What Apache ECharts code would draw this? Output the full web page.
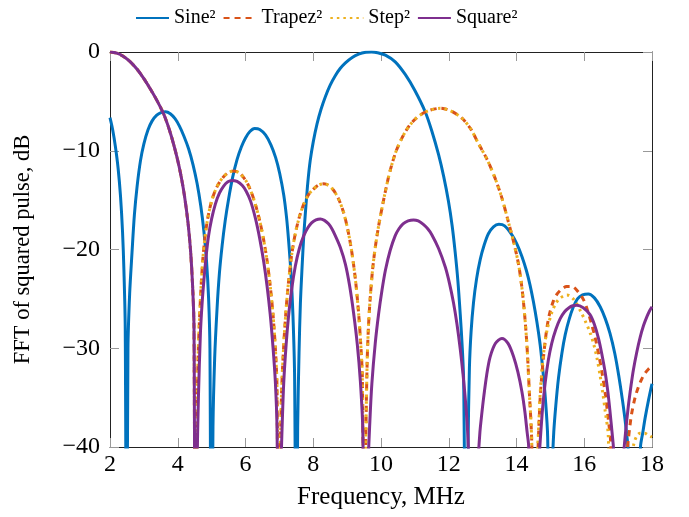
<!DOCTYPE html>
<html>
<head>
<meta charset="utf-8">
<script src="https://cdn.jsdelivr.net/npm/echarts@6/dist/echarts.min.js"></script>
<style>
html,body{margin:0;padding:0;background:#fff;}
#chart{width:689px;height:517px;}
</style>
</head>
<body>
<div id="chart"></div>
<script>
// ---- data (frequency in MHz, level in dB) ----
const seriesNames = ['Sine\u00B2', 'Trapez\u00B2', 'Step\u00B2', 'Square\u00B2'];
const xTicks = [2, 4, 6, 8, 10, 12, 14, 16, 18];
const yTicks = [-40, -30, -20, -10, 0];

const sineSq = [
  [2.00,-6.65],[2.08,-7.9],[2.16,-9.6],[2.24,-11.8],[2.31,-14.6],[2.37,-18.2],[2.41,-22.0],[2.45,-28],[2.49,-60],
  [2.53,-30],[2.58,-24.5],[2.65,-20.3],[2.72,-16.5],[2.80,-13.6],[2.90,-11.0],[3.00,-9.3],[3.12,-7.9],[3.24,-7.0],[3.38,-6.4],[3.52,-6.12],[3.64,-6.05],[3.78,-6.25],[3.92,-6.75],[4.05,-7.5],[4.18,-8.5],[4.32,-9.8],[4.45,-11.4],[4.57,-13.3],[4.68,-15.6],[4.77,-18.1],[4.85,-21.2],[4.91,-24.9],[4.95,-30],[4.99,-60],
  [5.04,-38],[5.09,-31],[5.16,-26.0],[5.23,-22.4],[5.31,-19.6],[5.40,-17.1],[5.50,-14.9],[5.62,-12.7],[5.75,-10.9],[5.88,-9.6],[6.00,-8.7],[6.13,-8.05],[6.27,-7.75],[6.42,-7.85],[6.59,-8.4],[6.75,-9.4],[6.89,-10.7],[7.01,-12.3],[7.13,-14.5],[7.21,-16.7],[7.27,-19.0],[7.34,-22.3],[7.40,-26.6],[7.45,-33],[7.50,-60],
  [7.54,-38],[7.58,-30.5],[7.62,-25.5],[7.67,-21.8],[7.72,-18.6],[7.77,-16.2],[7.84,-13.2],[7.91,-11.0],[8.00,-9.1],[8.11,-7.3],[8.23,-5.8],[8.36,-4.5],[8.50,-3.35],[8.65,-2.4],[8.80,-1.65],[8.95,-1.1],[9.15,-0.55],[9.34,-0.22],[9.55,-0.03],[9.72,0],[9.90,-0.07],[10.13,-0.32],[10.42,-1.0],[10.72,-2.3],[11.00,-3.9],[11.31,-6.1],[11.50,-8.0],[11.70,-10.4],[11.85,-12.6],[11.99,-15.1],[12.10,-17.6],[12.19,-20.3],[12.27,-23.2],[12.34,-26.6],[12.40,-30],[12.44,-33.3],[12.52,-60],
  [12.57,-40],[12.61,-32],[12.66,-28.3],[12.73,-25.4],[12.82,-23.0],[12.93,-21.0],[13.05,-19.5],[13.17,-18.4],[13.32,-17.7],[13.48,-17.45],[13.65,-17.6],[13.86,-18.5],[14.02,-19.5],[14.16,-20.7],[14.29,-22.1],[14.40,-23.6],[14.50,-25.3],[14.60,-27.3],[14.70,-29.7],[14.78,-32.3],[14.85,-35.0],[14.92,-39],[15.00,-60],
  [15.06,-42],[15.10,-38.5],[15.16,-35.8],[15.24,-33.0],[15.34,-30.5],[15.44,-28.6],[15.56,-27.0],[15.68,-25.8],[15.80,-25.0],[15.95,-24.6],[16.12,-24.5],[16.30,-24.9],[16.47,-25.8],[16.62,-27.0],[16.76,-28.5],[16.90,-30.5],[17.02,-32.8],[17.13,-35.3],[17.22,-37.7],[17.30,-40.5],[17.48,-60],
  [17.66,-40],[17.73,-38.5],[17.80,-37.0],[17.90,-35.2],[18.00,-33.6]
];

const mainLobe = [
  [2.00,0],[2.20,-0.12],[2.40,-0.45],[2.60,-1.0],[2.80,-1.75],[3.00,-2.7],[3.20,-3.8],[3.40,-5.0],[3.60,-6.4],[3.80,-8.4],[3.98,-10.7],[4.10,-12.6],[4.20,-14.6],[4.30,-17.2],[4.38,-20.2],[4.44,-23.8],[4.48,-28],[4.52,-60]
];

const trapezSq = [
  [4.56,-40],[4.60,-31],[4.67,-25.0],[4.74,-21.0],[4.82,-18.3],[4.91,-16.4],[5.00,-15.1],[5.11,-14.0],[5.23,-13.2],[5.36,-12.6],[5.50,-12.2],[5.65,-12.05],[5.80,-12.2],[5.92,-12.6],[6.04,-13.2],[6.16,-14.1],[6.29,-15.4],[6.42,-17.1],[6.54,-19.1],[6.64,-21.2],[6.73,-23.7],[6.81,-26.5],[6.88,-29.9],[6.93,-34],[6.98,-60],
  [7.03,-40],[7.07,-34],[7.13,-29.6],[7.20,-26.0],[7.27,-23.3],[7.36,-20.6],[7.47,-18.4],[7.59,-16.7],[7.72,-15.4],[7.87,-14.4],[8.03,-13.8],[8.17,-13.45],[8.31,-13.35],[8.45,-13.5],[8.60,-14.0],[8.75,-14.9],[8.90,-16.3],[9.02,-18.0],[9.14,-20.3],[9.25,-23.2],[9.34,-26.5],[9.40,-29.5],[9.45,-33],[9.51,-60],
  [9.55,-40],[9.59,-31.6],[9.63,-27.8],[9.68,-25.0],[9.75,-22.1],[9.83,-19.8],[9.93,-17.6],[10.03,-15.8],[10.13,-14.1],[10.22,-12.7],[10.32,-11.4],[10.45,-10.0],[10.62,-8.7],[10.85,-7.4],[11.11,-6.5],[11.40,-5.95],[11.75,-5.7],[12.05,-5.95],[12.39,-6.7],[12.65,-7.8],[12.88,-9.3],[13.12,-10.8],[13.37,-12.8],[13.57,-14.8],[13.76,-17.2],[13.92,-19.3],[14.06,-21.5],[14.15,-23.6],[14.23,-26.2],[14.31,-29.8],[14.38,-34.5],[14.45,-39.5],[14.55,-60],
  [14.62,-42],[14.66,-38],[14.70,-35.0],[14.75,-32.6],[14.80,-30.8],[14.85,-29.2],[14.90,-27.9],[14.97,-26.6],[15.09,-25.2],[15.20,-24.5],[15.34,-24.0],[15.48,-23.75],[15.63,-23.75],[15.80,-24.2],[15.98,-25.1],[16.10,-26.2],[16.22,-27.6],[16.32,-28.9],[16.42,-30.5],[16.52,-32.4],[16.62,-34.6],[16.71,-37.2],[16.78,-39.5],[16.95,-60],
  [17.25,-41],[17.30,-39.3],[17.35,-37.8],[17.40,-36.6],[17.50,-35.0],[17.60,-33.9],[17.70,-33.1],[17.80,-32.5],[17.90,-32.1],[18.00,-31.8]
];

const stepSq = [
  [4.56,-40],[4.60,-31],[4.67,-25.0],[4.74,-21.0],[4.82,-18.3],[4.91,-16.4],[5.00,-15.1],[5.11,-14.0],[5.23,-13.2],[5.36,-12.6],[5.50,-12.2],[5.65,-12.05],[5.80,-12.2],[5.92,-12.6],[6.04,-13.2],[6.16,-14.1],[6.29,-15.4],[6.42,-17.1],[6.54,-19.1],[6.64,-21.2],[6.73,-23.7],[6.81,-26.5],[6.88,-29.9],[6.93,-34],[6.98,-60],
  [7.03,-40],[7.07,-34],[7.13,-29.6],[7.20,-26.0],[7.27,-23.3],[7.36,-20.6],[7.47,-18.4],[7.59,-16.7],[7.72,-15.4],[7.87,-14.4],[8.03,-13.8],[8.17,-13.45],[8.31,-13.35],[8.45,-13.5],[8.60,-14.0],[8.75,-14.9],[8.90,-16.3],[9.02,-18.0],[9.14,-20.3],[9.25,-23.2],[9.34,-26.5],[9.40,-29.5],[9.45,-33],[9.51,-60],
  [9.55,-40],[9.59,-31.6],[9.63,-27.8],[9.68,-25.0],[9.75,-22.1],[9.83,-19.8],[9.93,-17.6],[10.03,-15.8],[10.13,-14.1],[10.22,-12.7],[10.32,-11.4],[10.45,-10.0],[10.62,-8.7],[10.85,-7.4],[11.11,-6.5],[11.40,-5.95],[11.75,-5.7],[12.05,-5.95],[12.39,-6.7],[12.65,-7.8],[12.88,-9.3],[13.12,-10.8],[13.37,-12.8],[13.57,-14.8],[13.76,-17.2],[13.92,-19.3],[14.06,-21.5],[14.15,-23.6],[14.23,-26.2],[14.31,-29.8],[14.38,-34.5],[14.45,-39.5],[14.53,-60],
  [14.62,-41],[14.66,-37.5],[14.70,-34.5],[14.75,-32.2],[14.80,-30.5],[14.90,-28.2],[15.04,-26.4],[15.17,-25.4],[15.30,-24.9],[15.49,-24.6],[15.70,-25.1],[15.90,-26.3],[16.05,-27.4],[16.17,-28.4],[16.28,-29.6],[16.37,-30.9],[16.47,-32.8],[16.55,-34.6],[16.62,-36.4],[16.71,-38.9],[16.85,-60],
  [17.40,-41],[17.47,-39.6],[17.55,-38.9],[17.65,-38.6],[17.78,-38.6],[17.89,-38.8],[18.00,-39.0]
];

const squareSq = [
  [4.57,-42],[4.61,-35],[4.67,-28.4],[4.72,-25.4],[4.77,-23.2],[4.84,-20.6],[4.91,-18.6],[5.00,-16.9],[5.11,-15.4],[5.23,-14.3],[5.36,-13.55],[5.48,-13.15],[5.60,-13.0],[5.75,-13.1],[5.90,-13.5],[6.02,-14.1],[6.15,-15.1],[6.29,-16.8],[6.42,-18.9],[6.54,-21.3],[6.64,-23.8],[6.73,-26.6],[6.81,-29.8],[6.88,-33.3],[6.93,-38],[6.99,-60],
  [7.05,-42],[7.09,-37],[7.13,-33.4],[7.20,-29.6],[7.27,-26.8],[7.36,-24.1],[7.47,-21.7],[7.59,-19.9],[7.72,-18.6],[7.84,-17.8],[7.95,-17.3],[8.08,-17.0],[8.21,-16.9],[8.33,-17.05],[8.45,-17.4],[8.55,-17.9],[8.65,-18.6],[8.80,-19.8],[8.95,-21.5],[9.07,-23.6],[9.19,-26.4],[9.30,-29.6],[9.39,-33.3],[9.46,-38],[9.55,-60],
  [9.62,-42],[9.67,-37.5],[9.73,-33.6],[9.83,-29.5],[9.93,-26.5],[10.03,-24.1],[10.13,-22.1],[10.27,-20.1],[10.42,-18.6],[10.53,-17.9],[10.65,-17.4],[10.80,-17.1],[10.96,-17.0],[11.10,-17.1],[11.25,-17.45],[11.38,-17.9],[11.50,-18.5],[11.70,-19.9],[11.90,-21.8],[12.02,-23.4],[12.14,-25.4],[12.24,-27.5],[12.34,-30.1],[12.42,-32.6],[12.49,-35.2],[12.55,-38],[12.60,-42],[12.73,-60],
  [12.86,-42],[12.92,-38.5],[12.97,-36.8],[13.03,-35.0],[13.12,-32.7],[13.22,-30.9],[13.38,-29.5],[13.57,-29.0],[13.75,-29.5],[13.91,-30.8],[14.04,-32.4],[14.16,-34.4],[14.25,-36.5],[14.31,-38.4],[14.36,-40],[14.45,-60],
  [14.62,-44],[14.66,-41.5],[14.70,-39.4],[14.77,-36.1],[14.85,-33.4],[14.94,-31.2],[15.04,-29.5],[15.16,-28.1],[15.29,-27.0],[15.42,-26.3],[15.55,-25.9],[15.66,-25.7],[15.78,-25.65],[15.97,-25.9],[16.17,-26.6],[16.30,-27.6],[16.42,-29.0],[16.52,-30.6],[16.62,-32.5],[16.70,-34.5],[16.76,-36.4],[16.82,-38.5],[16.87,-40.5],[17.01,-60],
  [17.16,-41],[17.22,-38.5],[17.30,-35.9],[17.38,-33.8],[17.45,-32.2],[17.55,-30.4],[17.65,-28.9],[17.75,-27.7],[17.85,-26.8],[17.93,-26.2],[18.00,-25.8]
];

// ---- chart ----
const FONT = '"Liberation Serif", "DejaVu Serif", serif';
const colors = ['#0072BD', '#D95319', '#EDB120', '#7E2F8E'];
const minus = v => (v < 0 ? '\u2212' + (-v) : String(v));

const chart = echarts.init(document.getElementById('chart'), null, {renderer: 'canvas'});

function axisCommon(extra) {
  return Object.assign({
    type: 'value',
    axisLine: {show: true, onZero: false, lineStyle: {color: '#222', width: 1}},
    axisTick: {show: true, inside: true, length: 9, lineStyle: {color: '#999', width: 1}},
    splitLine: {show: false},
  }, extra);
}

const option = {
  animation: false,
  color: colors,
  textStyle: {fontFamily: FONT},
  grid: {left: 110, right: 37, top: 52, bottom: 70, show: false},
  legend: {
    top: 3, left: 130,
    itemWidth: 33, itemHeight: 12, itemGap: 7,
    itemStyle: {opacity: 0, borderWidth: 0},
    textStyle: {fontFamily: FONT, fontSize: 20, color: '#000'},
    data: seriesNames
  },
  xAxis: [
    axisCommon({
      position: 'bottom', min: 2, max: 18, interval: 2,
      axisLabel: {fontFamily: FONT, fontSize: 24, color: '#000', margin: 6, formatter: minus},
      name: 'Frequency, MHz', nameLocation: 'middle', nameGap: 38,
      nameTextStyle: {fontFamily: FONT, fontSize: 25, color: '#000'}
    }),
    axisCommon({position: 'top', min: 2, max: 18, interval: 2, axisLabel: {show: false}})
  ],
  yAxis: [
    axisCommon({
      position: 'left', min: -40, max: 0, interval: 10,
      axisLabel: {fontFamily: FONT, fontSize: 24, color: '#000', margin: 10, formatter: minus},
      name: 'FFT of squared pulse, dB', nameLocation: 'middle', nameGap: 75, nameRotate: 90,
      nameTextStyle: {fontFamily: FONT, fontSize: 22.5, color: '#000'}
    }),
    axisCommon({position: 'right', min: -40, max: 0, interval: 10, axisLabel: {show: false}})
  ],
  series: [
    {name: seriesNames[0], data: sineSq, lineStyle: {width: 3, type: 'solid'}},
    {name: seriesNames[1], data: mainLobe.concat(trapezSq), lineStyle: {width: 3, type: [6, 5]}},
    {name: seriesNames[2], data: mainLobe.concat(stepSq), lineStyle: {width: 3, type: [2.5, 4]}},
    {name: seriesNames[3], data: mainLobe.concat(squareSq), lineStyle: {width: 3, type: 'solid'}}
  ].map(s => Object.assign({
    type: 'line', showSymbol: false, symbol: 'none', smooth: 0.3, clip: true,
    xAxisIndex: 0, yAxisIndex: 0
  }, s))
};
chart.setOption(option);
</script>
</body>
</html>
